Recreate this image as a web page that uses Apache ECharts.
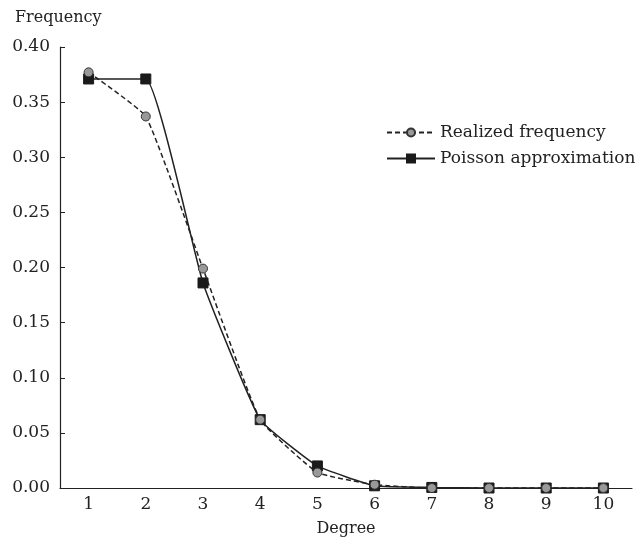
<!DOCTYPE html>
<html><head><meta charset="utf-8">
<script src="https://cdn.jsdelivr.net/npm/echarts@6/dist/echarts.min.js"></script>
<style>html,body{margin:0;padding:0;background:#fff}#c{width:635px;height:545px}</style>
</head><body><div id="c"></div>
<script>
const degrees = ['1','2','3','4','5','6','7','8','9','10'];
const realized = [0.377, 0.337, 0.199, 0.062, 0.014, 0.003, 0.000, 0.000, 0.000, 0.000];
const poisson  = [0.371, 0.371, 0.186, 0.062, 0.020, 0.002, 0.0005, 0.000, 0.000, 0.000];
const yTicks = [0, 0.05, 0.10, 0.15, 0.20, 0.25, 0.30, 0.35, 0.40];

const font = 'DejaVu Serif';
const chart = echarts.init(document.getElementById('c'), null, {renderer:'canvas'});
chart.setOption({
  animation: false,
  backgroundColor: '#fff',
  title: {text: 'Frequency', left: 10, top: 5, textStyle: {fontFamily: font, fontSize: 16, fontWeight: 'normal', color: '#222'}},
  legend: {
    left: 381, top: 119, orient: 'vertical', itemGap: 9, itemWidth: 48, itemHeight: 10,
    textStyle: {fontFamily: font, fontSize: 17, color: '#222'},
    data: ['Realized frequency', 'Poisson approximation']
  },
  grid: {left: 60, right: 3, top: 47, bottom: 57},
  xAxis: {
    type: 'category', data: degrees, boundaryGap: true,
    name: 'Degree', nameLocation: 'middle', nameGap: 33,
    nameTextStyle: {fontFamily: font, fontSize: 16, color: '#222'},
    axisLine: {lineStyle: {color: '#222', width: 1.2}},
    axisTick: {inside: true, alignWithLabel: true, length: 5, lineStyle: {color: '#222'}},
    axisLabel: {fontFamily: font, fontSize: 17, color: '#222', margin: 8}
  },
  yAxis: {
    type: 'value', min: 0, max: 0.4, interval: 0.05,
    axisLine: {show: true, lineStyle: {color: '#222', width: 1.2}},
    axisTick: {show: true, inside: true, length: 5, lineStyle: {color: '#222'}},
    splitLine: {show: false},
    axisLabel: {fontFamily: font, fontSize: 17, color: '#222', margin: 10, formatter: v => v.toFixed(2)}
  },
  series: [
    {
      name: 'Realized frequency', type: 'line', data: realized, smooth: 0.12,
      symbol: 'circle', symbolSize: 9,
      lineStyle: {color: '#222', width: 1.5, type: [5, 3]},
      itemStyle: {color: '#999', borderColor: '#333', borderWidth: 1},
      z: 3
    },
    {
      name: 'Poisson approximation', type: 'line', data: poisson, smooth: 0.12,
      symbol: 'rect', symbolSize: 10,
      lineStyle: {color: '#222', width: 1.5},
      itemStyle: {color: '#1a1a1a', borderColor: '#1a1a1a', borderWidth: 1},
      z: 2
    }
  ]
});
</script></body></html>
